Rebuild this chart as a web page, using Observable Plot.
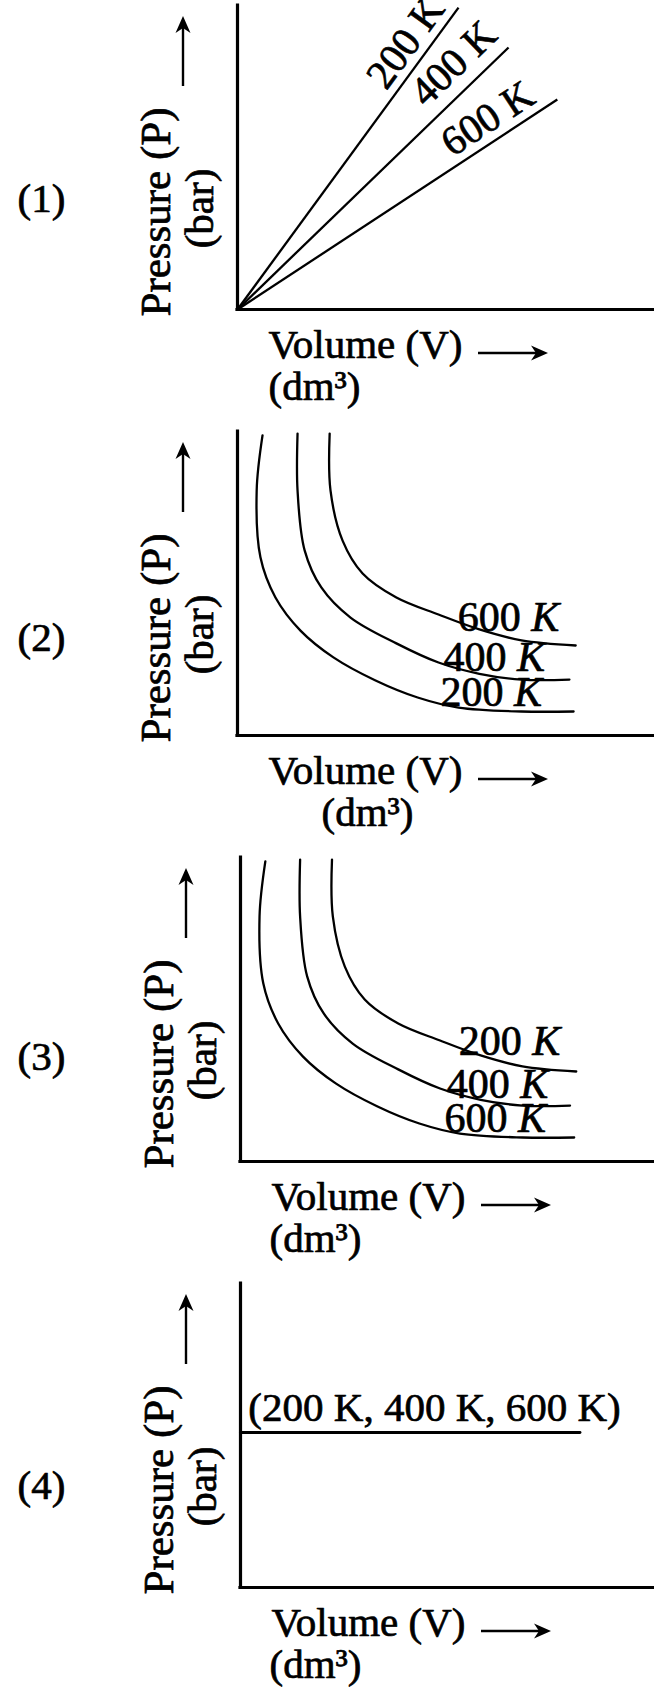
<!DOCTYPE html>
<html>
<head>
<meta charset="utf-8">
<script src="https://cdn.jsdelivr.net/npm/d3@7"></script>
<script src="https://cdn.jsdelivr.net/npm/@observablehq/plot@0.6"></script>
<style>
  body { margin: 0; background: #fff; }
  #chart svg { display: block; }
</style>
</head>
<body>
<div id="chart"></div>
<script>
// ---------------- DATA (V and P in arbitrary units 0–10) ----------------
const panelNumbers = ["(1)", "(2)", "(3)", "(4)"];
const temps = ["200 K", "400 K", "600 K"];

// Panel 1: straight lines P ∝ V from the origin
const p1EndV = [5.30, 6.50, 7.67];
const p1EndP = [9.93, 8.62, 6.91];
const p1LabelV = [4.03, 5.18, 6.00];
const p1LabelP = [8.78, 8.09, 6.28];

// Panels 2 and 3: the same three hyperbola-like isotherms (inner, middle, outer)
const innerCurveV = [0.60, 0.46, 0.55, 0.91, 1.51, 2.30, 3.31, 4.32, 5.30, 6.81, 8.06];
const innerCurveP = [9.87, 8.06, 5.86, 4.54, 3.45, 2.57, 1.81, 1.25, 0.92, 0.79, 0.79];
const middleCurveV = [1.44, 1.44, 1.61, 2.01, 2.71, 3.81, 4.82, 5.80, 6.81, 7.96];
const middleCurveP = [9.93, 8.06, 6.09, 4.87, 3.88, 3.03, 2.40, 2.03, 1.84, 1.84];
const outerCurveV = [2.21, 2.23, 2.52, 3.00, 3.81, 4.82, 5.80, 6.81, 8.11];
const outerCurveP = [9.93, 8.06, 6.41, 5.33, 4.54, 3.98, 3.49, 3.13, 2.96];

// Panel 2 labels (outer = 600 K, middle = 400 K, inner = 200 K)
const p2LabelText = ["600 K", "400 K", "200 K"];
const p2LabelV = [5.28, 4.94, 4.87];
const p2LabelP = [3.88, 2.57, 1.41];
// Panel 3 labels (outer = 200 K, middle = 400 K, inner = 600 K)
const p3LabelText = ["200 K", "400 K", "600 K"];
const p3LabelV = [5.27, 4.98, 4.93];
const p3LabelP = [3.95, 2.53, 1.41];

// Panel 4: one horizontal line for all temperatures
const p4LineV = [0, 8.2];
const p4LineP = [5.1, 5.1];
const p4LabelText = "(200 K, 400 K, 600 K)";
const p4LabelV = 0.19;
const p4LabelP = 5.92;

// ---------------- LAYOUT / STYLE ----------------
const W = 654;
const FRAME_H = 304;
const SERIF = "'Liberation Serif', 'Times New Roman', serif";
const FS = 41;
const AXIS_W = 3.2;
const CURVE_W = 2.3;
const TXT = {fill: "black", stroke: "black", strokeWidth: 0.7};

function curveRows() {
  const rows = [];
  innerCurveV.forEach((v, i) => rows.push({s: "inner", v, p: innerCurveP[i]}));
  middleCurveV.forEach((v, i) => rows.push({s: "middle", v, p: middleCurveP[i]}));
  outerCurveV.forEach((v, i) => rows.push({s: "outer", v, p: outerCurveP[i]}));
  return rows;
}

// arrow decoration next to an axis title (filled, slightly notched head)
function axisArrow(kind) {
  return (index, scales, values, dims) => {
    const {height, marginLeft, marginTop, marginBottom} = dims;
    let x1, y1, x2, y2;
    if (kind === "h") {
      const yb = height - marginBottom + 44;
      x1 = marginLeft + 241; x2 = marginLeft + 311; y1 = y2 = yb;
    } else {
      const xv = marginLeft - 54;
      x1 = x2 = xv; y1 = marginTop + 81; y2 = marginTop + 11;
    }
    const len = Math.hypot(x2 - x1, y2 - y1);
    const ux = (x2 - x1) / len, uy = (y2 - y1) / len;
    const nx = -uy, ny = ux;
    const hl = 17, hw = 7.5, notch = 12;
    const g = d3.create("svg:g");
    g.append("line")
      .attr("x1", x1).attr("y1", y1)
      .attr("x2", x2 - ux * notch).attr("y2", y2 - uy * notch)
      .attr("stroke", "black").attr("stroke-width", 2.4);
    g.append("path")
      .attr("d", `M${x2},${y2}L${x2 - ux * hl + nx * hw},${y2 - uy * hl + ny * hw}L${x2 - ux * notch},${y2 - uy * notch}L${x2 - ux * hl - nx * hw},${y2 - uy * hl - ny * hw}Z`)
      .attr("fill", "black");
    return g.node();
  };
}

function decorations(num, ml, numDy, dmDx) {
  return [
    Plot.ruleX([0], {stroke: "black", strokeWidth: AXIS_W, strokeLinecap: "square"}),
    Plot.ruleY([0], {stroke: "black", strokeWidth: AXIS_W, strokeLinecap: "square"}),
    Plot.text([num], {frameAnchor: "bottom-left", dx: 41 - ml, dy: numDy,
      textAnchor: "middle", lineAnchor: "middle", fontSize: FS, ...TXT}),
    Plot.text(["Pressure (P)"], {frameAnchor: "bottom-left", dx: -68, dy: 7, rotate: -90,
      textAnchor: "start", lineAnchor: "bottom", fontSize: 43, ...TXT}),
    Plot.text(["(bar)"], {frameAnchor: "bottom-left", dx: -25, dy: -101, rotate: -90,
      textAnchor: "middle", lineAnchor: "bottom", fontSize: FS, ...TXT}),
    axisArrow("v"),
    Plot.text(["Volume (V)"], {frameAnchor: "bottom-left", dx: 31, dy: 48,
      textAnchor: "start", lineAnchor: "bottom", fontSize: FS, ...TXT}),
    axisArrow("h"),
    Plot.text(["(dm³)"], {frameAnchor: "bottom-left", dx: dmDx, dy: 90,
      textAnchor: "start", lineAnchor: "bottom", fontSize: FS, ...TXT})
  ];
}

function panel({height, ml, marks}) {
  return Plot.plot({
    width: W,
    height,
    marginTop: 5,
    marginLeft: ml,
    marginRight: 0,
    marginBottom: height - 5 - FRAME_H,
    x: {domain: [0, 10], axis: null},
    y: {domain: [0, 10], axis: null},
    style: {fontFamily: SERIF, fontSize: FS + "px", background: "white", color: "black", overflow: "visible"},
    marks
  });
}

// Panel 1
const ml1 = 237;
const pxV1 = (W - ml1) / 10, pxP = FRAME_H / 10;
const p1Rows = temps.map((t, i) => ({
  t, v: p1EndV[i], p: p1EndP[i], lv: p1LabelV[i], lp: p1LabelP[i],
  rot: -Math.atan2(p1EndP[i] * pxP, p1EndV[i] * pxV1) * 180 / Math.PI
}));
const svg1 = panel({height: 426, ml: ml1, marks: [
  Plot.link(p1Rows, {x1: () => 0, y1: () => 0, x2: "v", y2: "p", stroke: "black", strokeWidth: CURVE_W}),
  Plot.text(p1Rows, {x: "lv", y: "lp", text: "t", rotate: "rot", fontSize: FS, ...TXT}),
  ...decorations(panelNumbers[0], ml1, -111, 31)
]});

// Panel 2
const ml2 = 237;
const p2Rows = p2LabelText.map((t, i) => ({t, v: p2LabelV[i], p: p2LabelP[i]}));
const svg2 = panel({height: 426, ml: ml2, marks: [
  Plot.line(curveRows(), {x: "v", y: "p", z: "s", curve: "catmull-rom", stroke: "black", strokeWidth: CURVE_W}),
  Plot.text(p2Rows, {x: "v", y: "p", text: "t", textAnchor: "start", lineAnchor: "middle", fontSize: 42, ...TXT}),
  ...decorations(panelNumbers[1], ml2, -98, 84)
]});

// Panel 3
const ml3 = 240;
const p3Rows = p3LabelText.map((t, i) => ({t, v: p3LabelV[i], p: p3LabelP[i]}));
const svg3 = panel({height: 426, ml: ml3, marks: [
  Plot.line(curveRows(), {x: "v", y: "p", z: "s", curve: "catmull-rom", stroke: "black", strokeWidth: CURVE_W}),
  Plot.text(p3Rows, {x: "v", y: "p", text: "t", textAnchor: "start", lineAnchor: "middle", fontSize: 42, ...TXT}),
  ...decorations(panelNumbers[2], ml3, -105, 29)
]});

// Panel 4
const ml4 = 240;
const p4Rows = p4LineV.map((v, i) => ({v, p: p4LineP[i]}));
const svg4 = panel({height: 415, ml: ml4, marks: [
  Plot.line(p4Rows, {x: "v", y: "p", stroke: "black", strokeWidth: CURVE_W + 0.6}),
  Plot.text([p4LabelText], {x: () => p4LabelV, y: () => p4LabelP, textAnchor: "start", lineAnchor: "middle", fontSize: FS, ...TXT}),
  ...decorations(panelNumbers[3], ml4, -102, 29)
]});

const chart = document.getElementById("chart");
[svg1, svg2, svg3, svg4].forEach(s => chart.appendChild(s));

// italic K in the isotherm labels of panels 2 and 3
const NS = "http://www.w3.org/2000/svg";
[svg2, svg3].forEach(svg => {
  svg.querySelectorAll("text").forEach(t => {
    const m = /^(\d+) K$/.exec(t.textContent);
    if (m) {
      t.textContent = m[1] + " ";
      const ts = document.createElementNS(NS, "tspan");
      ts.setAttribute("font-style", "italic");
      ts.textContent = "K";
      t.appendChild(ts);
    }
  });
});
</script>
</body>
</html>
